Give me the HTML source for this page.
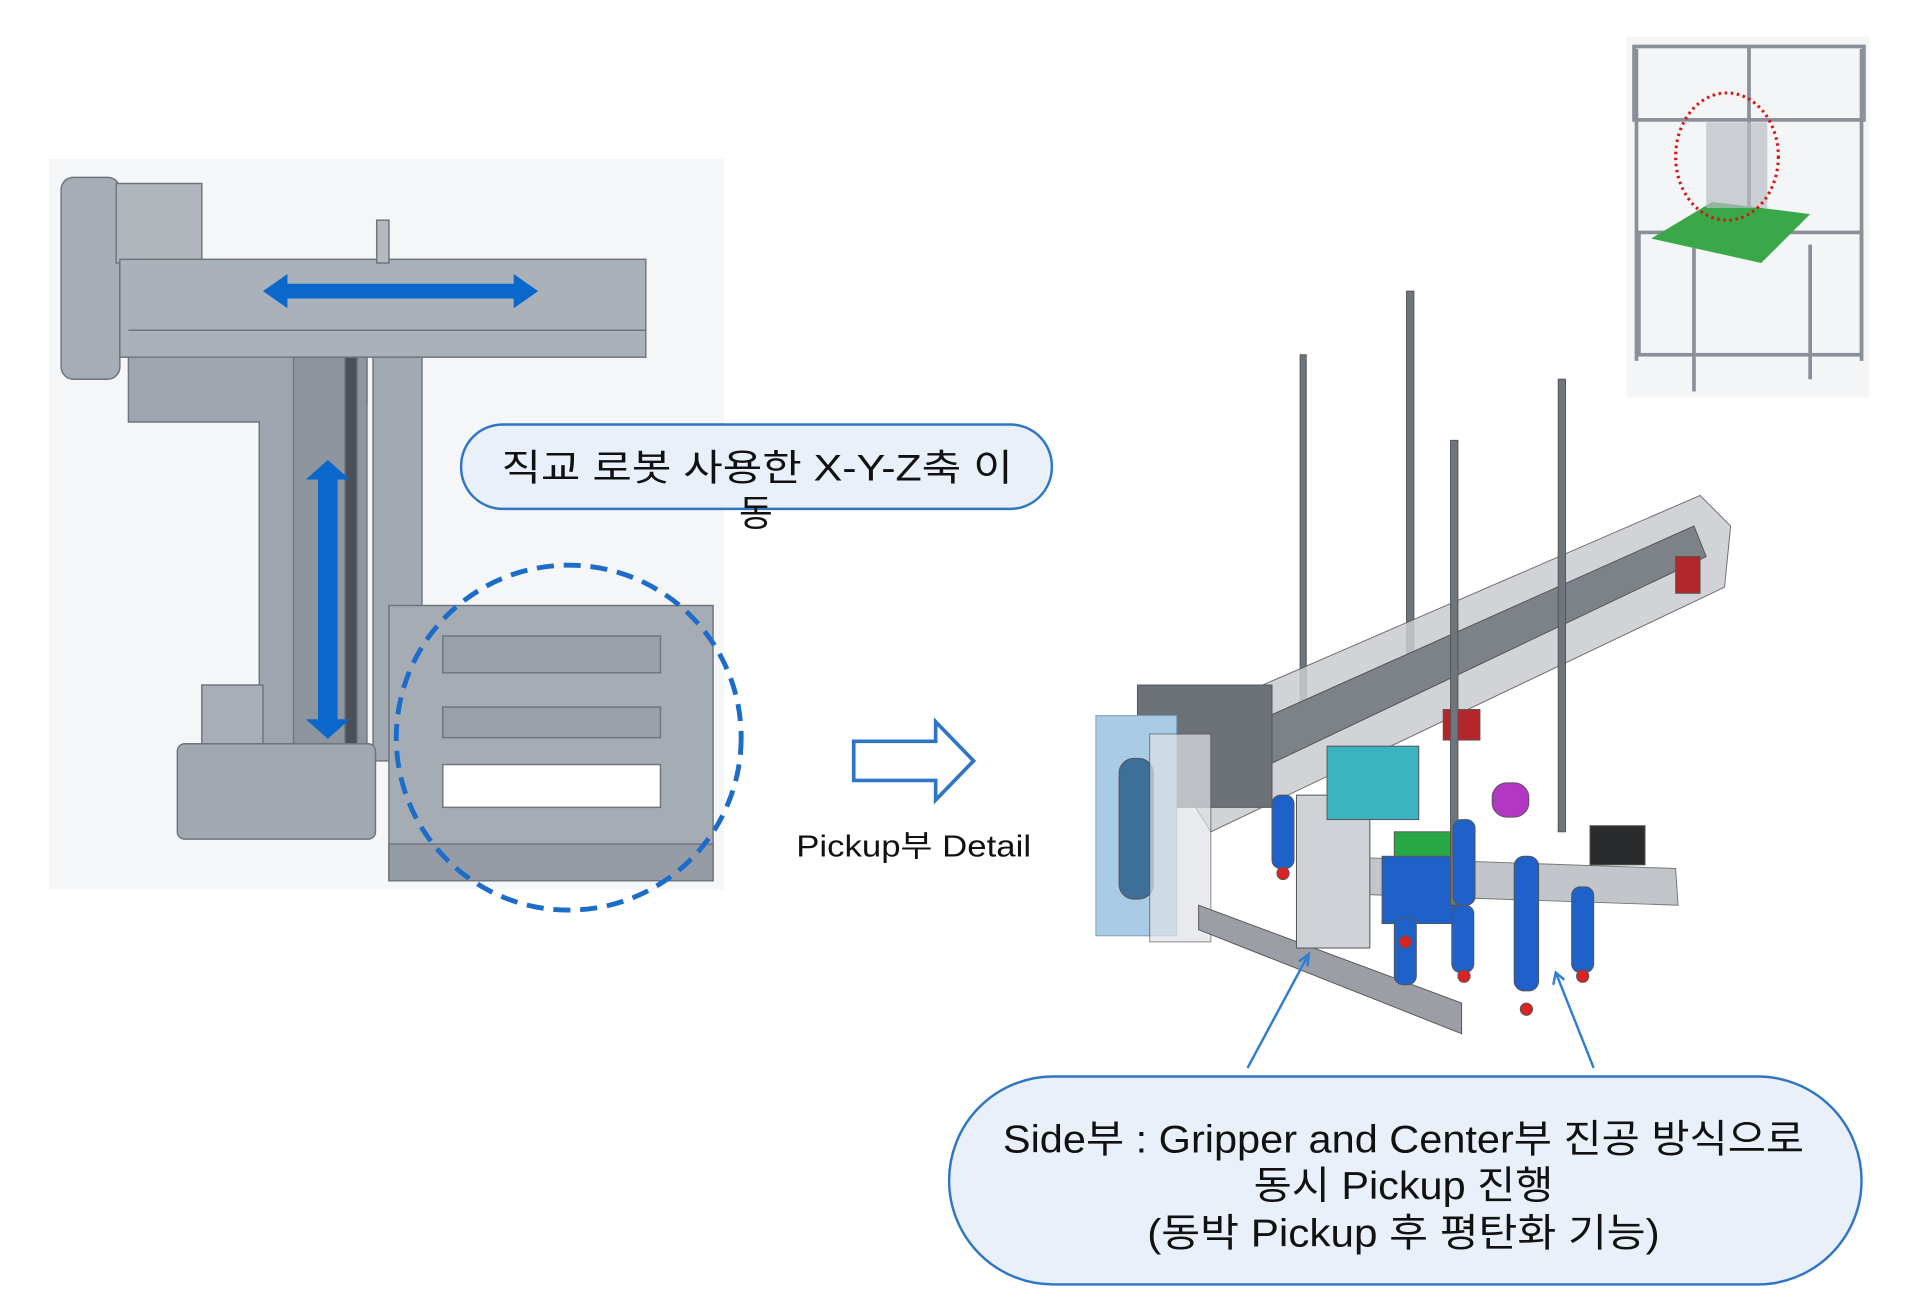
<!DOCTYPE html>
<html><head><meta charset="utf-8"><style>
html,body{margin:0;padding:0;background:#fff;width:1908px;height:1315px;overflow:hidden}
svg{display:block}
text{font-family:"Liberation Sans","Noto Sans CJK KR",sans-serif;fill:#111}
</style></head><body>
<svg width="1908" height="1315" viewBox="0 0 1560 1075" preserveAspectRatio="none">
<!-- left panel -->
<rect x="40" y="130" width="552" height="597" fill="#f5f6f8"/>
<g stroke="#6f757d" stroke-width="1.2">
<rect x="50" y="145" width="48" height="165" rx="10" fill="#a7adb5"/>
<rect x="95" y="150" width="70" height="65" fill="#b0b5bc"/>
<rect x="98" y="212" width="430" height="80" fill="#abb1b9"/>
<line x1="105" y1="270" x2="528" y2="270"/>
<rect x="308" y="180" width="10" height="35" fill="#b5bac1"/>
<path d="M105 292 H300 V330 H262 V630 H212 V345 H105 Z" fill="#9fa5ae"/>
<rect x="240" y="292" width="60" height="350" fill="#8e959e"/>
<rect x="282" y="292" width="10" height="350" fill="#4b5057"/>
<rect x="305" y="292" width="40" height="330" fill="#a3a9b1"/>
<rect x="165" y="560" width="50" height="70" fill="#a9aeb6"/>
<rect x="145" y="608" width="162" height="78" rx="6" fill="#a2a8b0"/>
<rect x="318" y="495" width="265" height="225" fill="#a6acb4"/>
<rect x="362" y="520" width="178" height="30" fill="#9aa0a8"/>
<rect x="362" y="578" width="178" height="25" fill="#9aa0a8"/>
<rect x="362" y="625" width="178" height="35" fill="#fff"/>
<rect x="318" y="690" width="265" height="30" fill="#969ca5"/>
</g>
<g fill="#0a68cc">
<path d="M215 238 L235 224 V232 H420 V224 L440 238 L420 252 V244 H235 V252 Z"/>
<path d="M268 376 L286 392 H276 V588 H286 L268 604 L250 588 H260 V392 H250 Z"/>
</g>
<circle cx="465" cy="603" r="141" fill="none" stroke="#1c6cc9" stroke-width="4" stroke-dasharray="14 8"/>
<!-- callout 1 -->
<rect x="377" y="347" width="483" height="69" rx="34" fill="#e9f0f9" stroke="#2e75c6" stroke-width="2"/>
<text x="410" y="393" font-size="30" textLength="418" lengthAdjust="spacingAndGlyphs">직교 로봇 사용한 X-Y-Z축 이</text>
<text x="618" y="430" font-size="30" text-anchor="middle">동</text>
<!-- hollow arrow -->
<path d="M698 606 H765 V590 L796 622 L765 654 V638 H698 Z" fill="#fff" stroke="#2e75c6" stroke-width="3"/>
<text x="651" y="700" font-size="25" textLength="192" lengthAdjust="spacingAndGlyphs">Pickup부 Detail</text>
<!-- right machine -->
<g stroke="#555" stroke-width="0.8">
<rect x="1063" y="290" width="5" height="290" fill="#6f757c"/>
<rect x="1150" y="238" width="6" height="300" fill="#6f757c"/>
<path d="M940 600 L1390 405 L1415 430 L1410 480 L990 680 Z" fill="#c9ccd1" opacity="0.85"/>
<path d="M960 620 L1385 430 L1395 455 L985 650 Z" fill="#7d8288"/>
<rect x="930" y="560" width="110" height="100" fill="#6d7278"/>
<rect x="896" y="585" width="66" height="180" fill="#a9cbe6" stroke="#7a9fc0"/>
<rect x="915" y="620" width="28" height="115" rx="12" fill="#3d6f99"/>
<rect x="940" y="600" width="50" height="170" fill="#dfe2e6" opacity="0.7"/>
<path d="M980 740 L1195 820 L1195 845 L980 760 Z" fill="#9b9fa5"/>
<path d="M1080 700 L1370 710 L1372 740 L1080 730 Z" fill="#b4b8bd" opacity="0.8"/>
<rect x="1060" y="650" width="60" height="125" fill="#cfd2d6"/>
<rect x="1085" y="610" width="75" height="60" fill="#3bb3c1"/>
<rect x="1140" y="680" width="50" height="40" fill="#28a745"/>
<rect x="1130" y="700" width="60" height="55" fill="#1e62c9"/>
<rect x="1220" y="640" width="30" height="28" rx="12" fill="#b238c4"/>
<rect x="1180" y="580" width="30" height="25" fill="#b3262b"/>
<rect x="1300" y="675" width="45" height="32" fill="#2a2b2d"/>
<rect x="1186" y="360" width="6" height="380" fill="#6f757c"/>
<rect x="1274" y="310" width="6" height="370" fill="#6f757c"/>
<g fill="#1e62c9">
<rect x="1040" y="650" width="18" height="60" rx="7"/>
<rect x="1188" y="670" width="18" height="70" rx="7"/>
<rect x="1238" y="700" width="20" height="110" rx="8"/>
<rect x="1285" y="725" width="18" height="70" rx="7"/>
<rect x="1140" y="750" width="18" height="55" rx="7"/>
<rect x="1187" y="740" width="18" height="55" rx="7"/>
</g>
<g fill="#d22">
<circle cx="1049" cy="714" r="5"/><circle cx="1197" cy="798" r="5"/><circle cx="1248" cy="825" r="5"/><circle cx="1294" cy="798" r="5"/><circle cx="1149" cy="770" r="5"/>
</g>
<rect x="1370" y="455" width="20" height="30" fill="#b3262b"/>
</g>
<g stroke="#2e7fd0" stroke-width="2" fill="none">
<path d="M1020 873 L1070 780 M1062 786 L1070 780 L1069 790"/>
<path d="M1303 873 L1272 795 M1270 805 L1272 795 L1279 801"/>
</g>
<!-- top-right thumbnail -->
<rect x="1330" y="30" width="198" height="295" fill="#f4f5f6"/>
<g stroke="#8a9098" stroke-width="3" fill="none">
<rect x="1336" y="38" width="188" height="60"/>
<line x1="1338" y1="40" x2="1338" y2="295"/><line x1="1522" y1="40" x2="1522" y2="295"/>
<line x1="1430" y1="38" x2="1430" y2="170"/>
<rect x="1340" y="190" width="182" height="100"/>
<line x1="1385" y1="200" x2="1385" y2="320"/><line x1="1480" y1="200" x2="1480" y2="310"/>
</g>
<path d="M1350 195 L1400 165 L1480 175 L1440 215 Z" fill="#3aa748"/>
<rect x="1395" y="100" width="50" height="70" fill="#b9bdc3" opacity="0.7"/>
<ellipse cx="1412" cy="128" rx="42" ry="52" fill="none" stroke="#d11" stroke-width="2.5" stroke-dasharray="2 3"/>
<!-- callout 2 -->
<rect x="776" y="880" width="746" height="170" rx="85" fill="#e9f0f9" stroke="#2e75c6" stroke-width="2"/>
<text x="820" y="942" font-size="32" textLength="655" lengthAdjust="spacingAndGlyphs">Side부 : Gripper and Center부 진공 방식으로</text>
<text x="1025" y="980" font-size="32" textLength="245" lengthAdjust="spacingAndGlyphs">동시 Pickup 진행</text>
<text x="938" y="1019" font-size="32" textLength="419" lengthAdjust="spacingAndGlyphs">(동박 Pickup 후 평탄화 기능)</text>
</svg>
</body></html>
